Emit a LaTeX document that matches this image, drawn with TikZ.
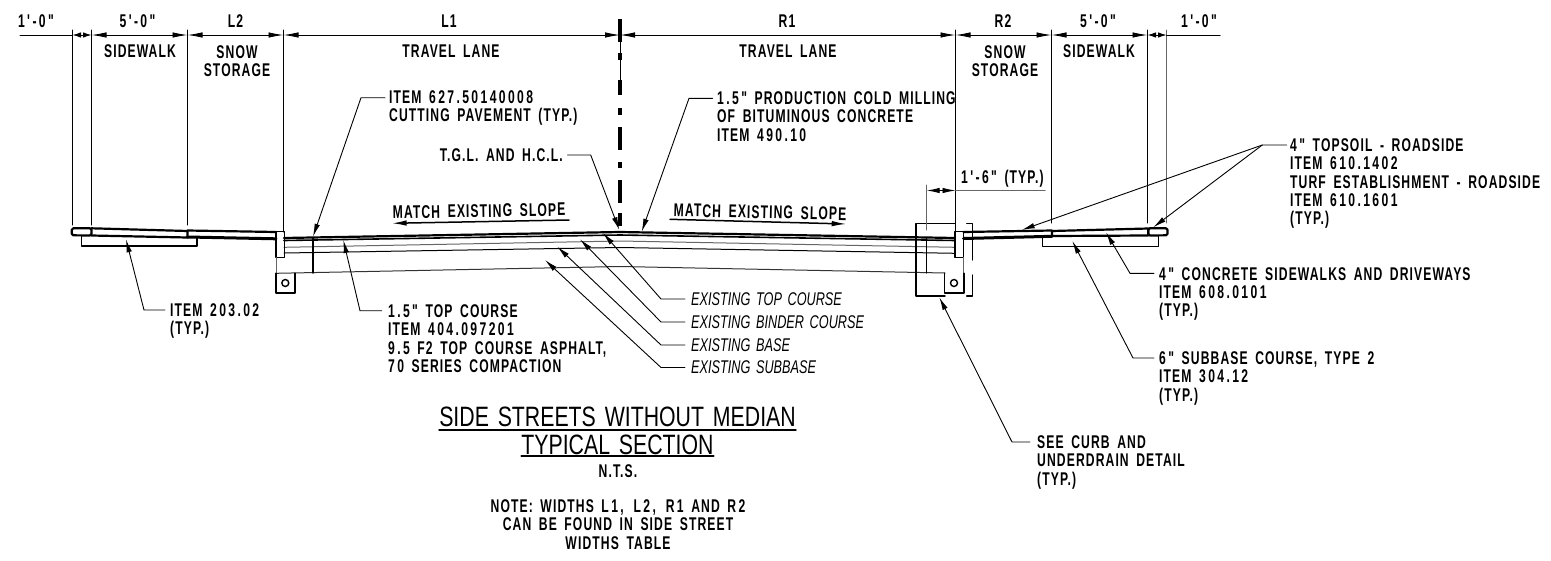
\documentclass[tikz,border=0pt]{standalone}
\usepackage{fontspec}
\usetikzlibrary{arrows.meta}
\newfontfamily\cadfont[FakeStretch=0.66,LetterSpace=6,WordSpace=1.7]{Liberation Sans}
\newfontfamily\cadthin[FakeStretch=0.76,WordSpace=1.5]{Liberation Sans}
\newfontfamily\cadital[FakeStretch=0.69,WordSpace=1.6]{Liberation Sans}
\newcommand{\dg}[1]{{\addfontfeature{LetterSpace=13}#1}}

\begin{document}
\begin{tikzpicture}[x=1pt,y=-1pt,line cap=round]
	\tikzstyle{lab}=[inner sep=0pt,font=\cadfont\bfseries\fontsize{18.4}{18.3}\selectfont,align=center];
	\tikzstyle{note}=[inner sep=0pt,anchor=north west,font=\cadfont\bfseries\fontsize{18.4}{18.3}\selectfont,align=left];
	\tikzstyle{exist}=[inner sep=0pt,anchor=west,font=\cadital\itshape\fontsize{18.4}{18.3}\selectfont];
	\tikzstyle{ttl}=[inner sep=0pt,font=\cadthin\fontsize{28}{30}\selectfont];
	\tikzstyle{dimn}=[line width=0.9pt,{Latex[length=15pt,width=5.5pt]}-{Latex[length=15pt,width=5.5pt]}];
	\tikzstyle{dimsmall}=[line width=0.9pt,{Latex[length=8.5pt,width=5.5pt]}-{Latex[length=8.5pt,width=5.5pt]}];
	\tikzstyle{ext}=[line width=1pt];
	\tikzstyle{leader}=[line width=0.9pt,-{Latex[length=13pt,width=5.5pt]}];
	\tikzstyle{heavy}=[line width=2.2pt,line join=round];
	\tikzstyle{fine}=[line width=1pt];
	\useasboundingbox (0,0) rectangle (1551,560);
	%% extension lines
	\coordinate (A) at (72.5,35);
	\coordinate (B) at (91.5,35);
	\coordinate (C) at (187.5,35);
	\coordinate (D) at (283.5,35);
	\coordinate (E) at (620,35);
	\coordinate (F) at (955.5,35);
	\coordinate (G) at (1051.5,35);
	\coordinate (H) at (1147.5,35);
	\coordinate (I) at (1166.5,35);
	\coordinate (AL) at (20,35);
	\coordinate (IR) at (1220,35);
	\draw[ext] (72.5,30) -- (72.5,225);
	\draw[ext] (91.5,30) -- (91.5,225);
	\draw[ext] (187.5,30) -- (187.5,225);
	\draw[ext] (283.5,30) -- (283.5,232);
	\draw[ext] (955.5,30) -- (955.5,232);
	\draw[ext] (1051.5,30) -- (1051.5,223);
	\draw[ext] (1147.5,30) -- (1147.5,223);
	\draw[ext,black!60] (1166.5,30) -- (1166.5,223);
	%% dimensions
	\draw[ext] (AL) -- (A);
	\draw[dimsmall] (A) -- (B);
	\draw[dimn] (B) -- (C);
	\draw[dimn] (C) -- (D);
	\draw[dimn] (D) -- (E);
	\draw[dimn] (E) -- (F);
	\draw[dimn] (F) -- (G);
	\draw[dimn] (G) -- (H);
	\draw[dimsmall] (H) -- (I);
	\draw[ext] (I) -- (IR);
	\node[lab] (dA) at (36,21)     {\dg{1'-0"}};
	\node[lab] (dB) at (137.5,21)  {\dg{5'-0"}};
	\node[lab] (dC) at (235.5,21)  {L2};
	\node[lab] (dD) at (449,21)    {L1};
	\node[lab] (dE) at (787,21)    {R1};
	\node[lab] (dF) at (1003,21)   {R2};
	\node[lab] (dG) at (1098,21)   {\dg{5'-0"}};
	\node[lab] (dH) at (1199,21)   {\dg{1'-0"}};
	\node[lab] (wB) at (140,51.5)  {SIDEWALK};
	\node[lab,anchor=north] (wC) at (237,45.5) {SNOW\\STORAGE};
	\node[lab] (wD) at (451,51.5)  {TRAVEL LANE};
	\node[lab] (wE) at (788,51.5)  {TRAVEL LANE};
	\node[lab,anchor=north] (wF) at (1005,45.5) {SNOW\\STORAGE};
	\node[lab] (wG) at (1099,51.5) {SIDEWALK};
	%% center line
	\coordinate (CT) at (620,19);
	\coordinate (CB) at (620,226);
	\draw[fine] (620,42) -- (620,80);
	\draw[line width=3.2pt,line cap=butt,dash pattern=on 23pt off 11pt on 7pt off 20pt on 15pt off 13pt on 7pt off 12pt on 23pt off 12pt on 6pt off 12pt on 23pt off 10pt on 13pt off 20pt] (CT) -- (CB);
	%% pavement layers
	\draw[heavy] (284,238) -- (620,232) -- (955,238);
	\draw[heavy,line width=1.6pt] (284,240.5) -- (620,235) -- (955,240.5);
	\draw[fine,black!60] (284,247.3) -- (620,241) -- (955,247.3);
	\draw[fine] (284,253) -- (620,247.5) -- (955,253.3);
	\draw[fine,black!80] (276,273.3) -- (620,266.5) -- (945,273);
	\draw[heavy,line width=1.4pt] (312.8,238) -- (312.8,273);
	%% left side
	\draw[heavy,rounded corners=1.5pt] (91.5,228.3) -- (71.8,228.3) -- (71.8,235.3) -- (91.5,235.5) -- cycle;
	\draw[heavy] (91.5,228.3) -- (187.5,231) -- (187.5,237.5) -- (91.5,235.5);
	\draw[heavy,line width=1.4pt] (81.7,236) -- (81.7,246) -- (197,246) -- (197,238);
	\draw[heavy] (187.5,230.5) -- (276,232);
	\draw[heavy,line width=3pt] (187.5,237) -- (276,238.8);
	\draw[heavy,line width=1.5pt] (276,231.7) rectangle (284.3,257.7);
	\draw[fine,black!60] (276,257.7) -- (276,273);
	\draw[heavy,line width=1.6pt] (276,273.3) -- (276,292.7) -- (295,292.7) -- (295,273.3);
	\node[circle,draw,line width=1.4pt,minimum size=7pt,inner sep=0pt] (dL) at (285.3,283) {};
	%% right side
	\draw[heavy] (963.5,232) -- (1052,230.5);
	\draw[heavy,line width=3pt] (963.5,238.5) -- (1052,236.3);
	\draw[heavy] (1052,231) -- (1148.3,228.5) -- (1148.3,235.5) -- (1052,236) -- cycle;
	\draw[heavy,rounded corners=1.5pt] (1148.3,228.3) -- (1167.5,228.3) -- (1167.5,235.3) -- (1148.3,235.5) -- cycle;
	\draw[heavy,line width=1.4pt] (1042.3,237) -- (1042.3,246.7) -- (1158.3,246.7) -- (1158.3,236);
	\draw[heavy,line width=1.5pt] (955,231.7) rectangle (963.3,257.3);
	\draw[fine,black!60] (963.5,257.3) -- (963.5,273);
	\draw[heavy,line width=1.6pt] (944.3,273.3) -- (944.3,292.7) -- (964,292.7) -- (964,273.3);
	\node[circle,draw,line width=1.4pt,minimum size=7pt,inner sep=0pt] (dR) at (954,283) {};
	\draw[heavy,line width=1.4pt] (955,223.3) -- (916,223.3) -- (916,296) -- (945,296);
	\draw[heavy,line width=1.4pt] (966.7,223.3) -- (972.7,223.3) -- (972.7,260);
	\draw[heavy,line width=1.4pt] (972.7,275) -- (972.7,296) -- (966.7,296);
	\draw[heavy,line width=1.4pt] (926.7,238) -- (926.7,273);
	\draw[ext,black!60] (926.7,185) -- (926.7,230);
	\coordinate (P) at (926.7,190.5);
	\coordinate (Q) at (955.5,190.5);
	\coordinate (PR) at (1045,190.5);
	\draw[line width=0.9pt,{Latex[length=13pt,width=5.5pt]}-{Latex[length=13pt,width=5.5pt]}] (P) -- (Q);
	\draw[ext,black!60] (Q) -- (PR);
	\node[note] (tW) at (961,169.5) {\dg{1'-6"} (TYP.)};
	%% slope arrows
	\node[lab,rotate=1] (sL) at (479,211) {MATCH EXISTING SLOPE};
	\node[lab,rotate=-1.3] (sR) at (760,212) {MATCH EXISTING SLOPE};
	\coordinate (sL1) at (569,220);
	\coordinate (sL2) at (391.7,223.3);
	\coordinate (sR1) at (670,219.3);
	\coordinate (sR2) at (846.7,224);
	\draw[line width=1.5pt,-{Latex[length=15pt,width=5.5pt]}] (sL1) -- (sL2);
	\draw[line width=1.5pt,-{Latex[length=15pt,width=5.5pt]}] (sR1) -- (sR2);
	%% items
	\node[note] (n1) at (389,90.5) {ITEM \dg{627.50140008}\\CUTTING PAVEMENT (TYP.)};
	\node[note] (n2) at (717,91.5) {\dg{1.5"} PRODUCTION COLD MILLING\\OF BITUMINOUS CONCRETE\\ITEM \dg{490.10}};
	\node[lab,anchor=east] (n3) at (563,155) {T.G.L. AND H.C.L.};
	\node[note] (n4) at (388,304.5) {\dg{1.5"} TOP COURSE\\ITEM \dg{404.097201}\\\dg{9.5} F2 TOP COURSE ASPHALT,\\\dg{70} SERIES COMPACTION};
	\node[note] (n5) at (170,303.5) {ITEM \dg{203.02}\\(TYP.)};
	\node[note] (n6) at (1290,138.5) {\dg{4"} TOPSOIL - ROADSIDE\\ITEM \dg{610.1402}\\TURF ESTABLISHMENT - ROADSIDE\\ITEM \dg{610.1601}\\(TYP.)};
	\node[note] (n7) at (1159,267) {\dg{4"} CONCRETE SIDEWALKS AND DRIVEWAYS\\ITEM \dg{608.0101}\\(TYP.)};
	\node[note] (n8) at (1159,351.5) {\dg{6"} SUBBASE COURSE, TYPE \dg{2}\\ITEM \dg{304.12}\\(TYP.)};
	\node[note] (n9) at (1037,435.5) {SEE CURB AND\\UNDERDRAIN DETAIL\\(TYP.)};
	\node[exist] (e1) at (691,299) {EXISTING TOP COURSE};
	\node[exist] (e2) at (691,322) {EXISTING BINDER COURSE};
	\node[exist] (e3) at (691,345) {EXISTING BASE};
	\node[exist] (e4) at (691,367.5) {EXISTING SUBBASE};
	%% leaders
	\coordinate (s1) at (385,97.7);
	\coordinate (s2) at (712.7,98.3);
	\coordinate (s3) at (567.5,155);
	\coordinate (s4) at (381.7,310.7);
	\coordinate (s5) at (165,310);
	\coordinate (s6) at (1286.7,145);
	\coordinate (s7) at (1154,273.3);
	\coordinate (s8) at (1154,358);
	\coordinate (s9) at (1030,442);
	\draw[leader] (s1) -- (361,97.7) -- (313,236.7);
	\draw[leader] (s2) -- (689,98.3) -- (641.7,231.7);
	\draw[leader] (s3) -- (590.7,155) -- (619.3,230);
	\draw[leader] (s4) -- (360,310.7) -- (343.3,240);
	\draw[leader] (s5) -- (144,310) -- (126,239.3);
	\draw[leader] (s6) -- (1262.3,145) -- (1021.7,230);
	\draw[leader] (1262.3,145) -- (1153.3,227.3);
	\draw[leader] (s7) -- (1130,273.3) -- (1106,232.3);
	\draw[leader] (s8) -- (1133,358) -- (1072.3,241);
	\draw[leader] (s9) -- (1012,442) -- (939.3,297.3);
	\draw[leader] (e1.west) ++(-6,0) -- (661,299) -- (603,233);
	\draw[leader] (e2.west) ++(-6,0) -- (661,322) -- (580,239.3);
	\draw[leader] (e3.west) ++(-6,0) -- (661,345) -- (557.3,246.7);
	\draw[leader] (e4.west) ++(-6,0) -- (661,367.5) -- (545,260);
	%% title
	\node[ttl] (T1) at (617.5,417) {SIDE STREETS WITHOUT MEDIAN};
	\node[ttl] (T2) at (617.5,444.5) {TYPICAL SECTION};
	\draw[line width=1.6pt] (T1.base west |- 0,430) -- (T1.base east |- 0,430);
	\draw[line width=1.6pt] (T2.base west |- 0,456) -- (T2.base east |- 0,456);
	\node[lab] (T3) at (618,471) {N.T.S.};
	\node[lab,anchor=north] (T4) at (618,499.5) {NOTE: WIDTHS \dg{L1, L2, R1} AND \dg{R2}\\CAN BE FOUND IN SIDE STREET\\WIDTHS TABLE};
\end{tikzpicture}
\end{document}
